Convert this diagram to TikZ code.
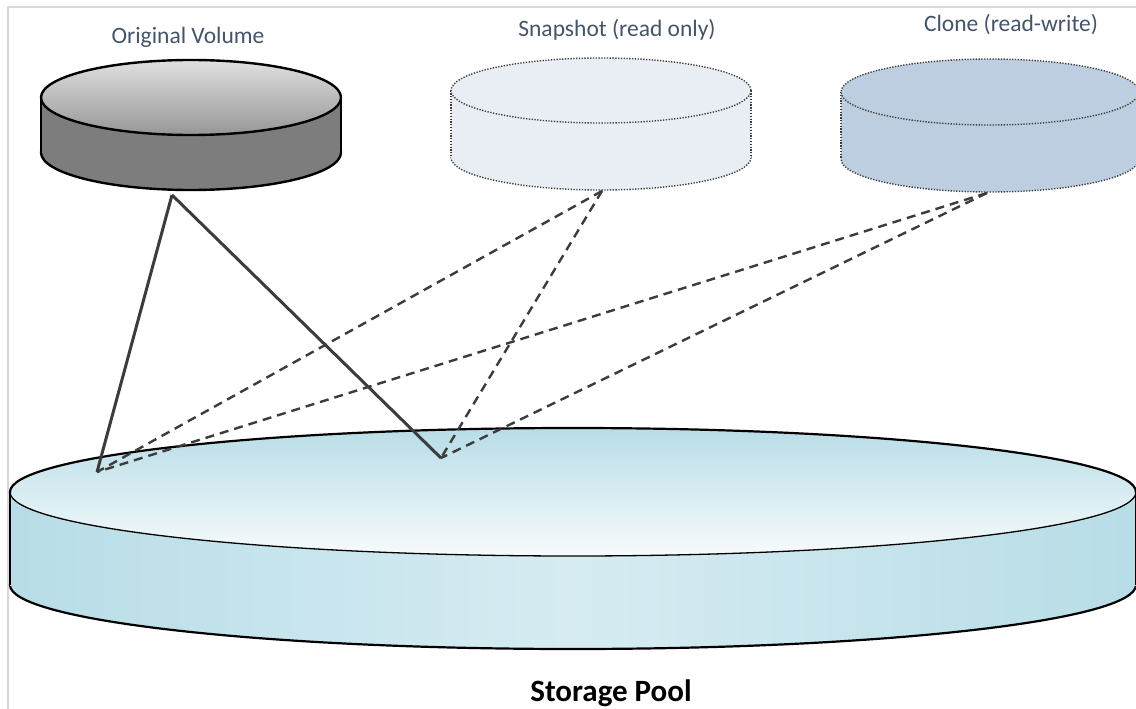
\documentclass[tikz,border=0pt]{standalone}
\usepackage{fontspec}
\setmainfont{Carlito}
\definecolor{poolblue}{RGB}{184,221,231}
\definecolor{poolmid}{RGB}{214,236,242}
\definecolor{poolwhite}{RGB}{247,251,252}
\definecolor{labelcol}{RGB}{68,84,106}
\definecolor{linecol}{RGB}{60,60,60}
\definecolor{framecol}{RGB}{217,217,217}
\definecolor{snapfill}{RGB}{233,238,245}
\definecolor{clonefill}{RGB}{189,206,225}
\definecolor{ovtop}{RGB}{224,224,224}
\definecolor{ovbot}{RGB}{150,150,150}
\definecolor{ovside}{RGB}{125,125,125}
\definecolor{dotcol}{RGB}{60,60,60}
\begin{document}
\begin{tikzpicture}[x=1pt,y=-1pt,
  solidlink/.style={draw=linecol, line width=3pt},
  dashlink/.style={draw=linecol, line width=2.4pt, dash pattern=on 9pt off 6pt},
  dotline/.style={draw=dotcol, line width=1.4pt, dash pattern=on 1.3pt off 1.5pt},
  solidline/.style={draw=black, line width=2.4pt},
  vollabel/.style={text=labelcol, font=\fontsize{23.5}{28}\selectfont, anchor=base, inner sep=0pt},
  poollabel/.style={text=black, font=\bfseries\fontsize{31}{36}\selectfont, anchor=base, inner sep=0pt}]
\useasboundingbox (0,0) rectangle (1136,709);
\clip (0,0) rectangle (1136,709);
\fill[white] (0,0) rectangle (1136,709);
% frame
\draw[framecol, line width=2pt] (7.5,709) -- (7.5,7) -- (1136,7);

% ---------- storage pool ----------
\shade[left color=poolblue, right color=poolblue, middle color=poolmid] (573,585) ellipse [x radius=563, y radius=64];
\draw[solidline, line width=2.2pt] (573,585) ellipse [x radius=563, y radius=64];
\shade[left color=poolblue, right color=poolblue, middle color=poolmid] (10,492) rectangle (1136,585);
\draw[solidline, line width=2.2pt] (10,492) -- (10,585);
\draw[solidline, line width=2.2pt] (1136,492) -- (1136,585);
\shade[top color=poolblue, bottom color=poolwhite] (573,492) ellipse [x radius=563, y radius=64];
\begin{scope}
  \clip (0,0) rectangle (1136,492);
  \draw[solidline, line width=2.2pt] (573,492) ellipse [x radius=563, y radius=64];
\end{scope}
\begin{scope}
  \clip (0,492) rectangle (1136,709);
  \draw[black, line width=1.3pt] (573,492) ellipse [x radius=563, y radius=64];
\end{scope}
\node[poollabel] (pooltext) at (611,701) {Storage Pool};

% ---------- original volume ----------
\fill[ovside] (191,152.5) ellipse [x radius=150, y radius=37.5];
\draw[solidline] (191,152.5) ellipse [x radius=150, y radius=37.5];
\fill[ovside] (41,97.5) rectangle (341,152.5);
\draw[solidline] (41,97.5) -- (41,152.5);
\draw[solidline] (341,97.5) -- (341,152.5);
\shade[top color=ovtop, bottom color=ovbot] (191,97.5) ellipse [x radius=150, y radius=37.5];
\draw[solidline] (191,97.5) ellipse [x radius=150, y radius=37.5];
\node[vollabel] (ovtext) at (188,44) {Original Volume};

% ---------- snapshot ----------
\fill[snapfill] (601,157.5) ellipse [x radius=150, y radius=32.5];
\draw[dotline] (601,157.5) ellipse [x radius=150, y radius=32.5];
\fill[snapfill] (451,90.5) rectangle (751,157.5);
\draw[dotline] (451,90.5) -- (451,157.5);
\draw[dotline] (751,90.5) -- (751,157.5);
\draw[dotline, fill=snapfill] (601,90.5) ellipse [x radius=150, y radius=32.5];
\node[vollabel] (sstext) at (617,37) {Snapshot (read only)};

% ---------- clone ----------
\fill[clonefill] (990,159) ellipse [x radius=149, y radius=33];
\draw[dotline] (990,159) ellipse [x radius=149, y radius=33];
\fill[clonefill] (841,92) rectangle (1139,159);
\draw[dotline] (841,92) -- (841,159);
\draw[dotline] (1139,92) -- (1139,159);
\draw[dotline, fill=clonefill] (990,92) ellipse [x radius=149, y radius=33];
\node[vollabel] (cltext) at (1011,32) {Clone (read-write)};

% ---------- connectors ----------
\coordinate (ov) at (172,195);
\coordinate (ss) at (602,191);
\coordinate (cl) at (987,193);
\coordinate (pa) at (97,472);
\coordinate (pb) at (441,458);
\draw[dashlink] (ss) -- (pa);
\draw[dashlink] (ss) -- (pb);
\draw[dashlink] (cl) -- (pa);
\draw[dashlink] (cl) -- (pb);
\draw[solidlink] (ov) -- (pa);
\draw[solidlink] (ov) -- (pb);
\end{tikzpicture}
\end{document}
